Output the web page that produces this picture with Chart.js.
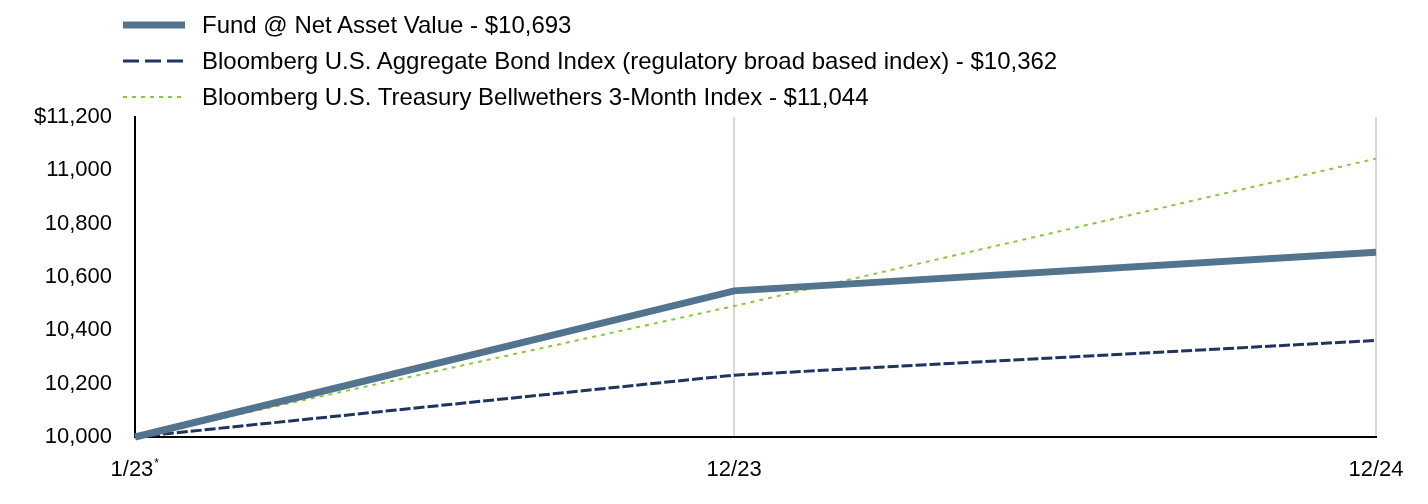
<!DOCTYPE html>
<html>
<head>
<meta charset="utf-8">
<script src="https://cdn.jsdelivr.net/npm/chart.js@4/dist/chart.umd.min.js"></script>
<style>
  html, body { margin: 0; padding: 0; background: #fff; }
  #wrap { position: relative; width: 1428px; height: 504px; }
  #legend { position: absolute; left: 123px; top: 7px; font-family: "Liberation Sans", Arial, sans-serif; font-size: 24px; color: #000; }
  .row { display: flex; align-items: center; height: 36px; }
  .row svg { width: 62px; height: 10px; margin-right: 17px; flex: none; }
  .row span { white-space: nowrap; }
</style>
</head>
<body>
<div id="wrap">
  <canvas id="growthChart" width="1428" height="504"></canvas>
  <div id="legend"></div>
</div>
<script>
// ข้อมูลที่อ่านจากภาพ
const xTickLabels = ['1/23', '12/23', '12/24'];
const monthsElapsed = [0, 11.2, 23.2];
const fundValues = [10000, 10548, 10693];
const bondValues = [10000, 10232, 10362];
const treasuryValues = [10000, 10491, 11044];
const seriesNames = [
  'Fund @ Net Asset Value - $10,693',
  'Bloomberg U.S. Aggregate Bond Index (regulatory broad based index) - $10,362',
  'Bloomberg U.S. Treasury Bellwethers 3-Month Index - $11,044'
];
const yMin = 10000, yMax = 11200, yStep = 200;

const FONT = '"Liberation Sans", Arial, sans-serif';
const styles = [
  { color: '#53748f', width: 7, dash: [], legendDash: '' },
  { color: '#1f3461', width: 3, dash: [11, 3], legendDash: '16 6' },
  { color: '#8dc63f', width: 2, dash: [4, 5], legendDash: '4 5' }
];
const allValues = [fundValues, bondValues, treasuryValues];

const toPoints = vals => vals.map((v, i) => ({ x: monthsElapsed[i], y: v }));

// --- legend แบบ HTML ---
const legendBox = document.getElementById('legend');
seriesNames.forEach((name, i) => {
  const s = styles[i];
  legendBox.innerHTML += `<div class="row">
      <svg viewBox="0 0 62 10"><line x1="0" y1="5" x2="62" y2="5" stroke="${s.color}" stroke-width="${s.width}" stroke-dasharray="${s.legendDash}"/></svg>
      <span>${name}</span></div>`;
});

// เครื่องหมาย * ยกสูงหลัง 1/23
const asteriskPlugin = {
  id: 'asterisk',
  afterDraw(c) {
    const xs = c.scales.x;
    const ctx = c.ctx;
    ctx.save();
    ctx.font = '22px ' + FONT;
    const full = ctx.measureText(xTickLabels[0] + ' ').width;
    const space = ctx.measureText(' ').width;
    const x = xs.getPixelForValue(monthsElapsed[0]) + full / 2 - space + 1;
    ctx.font = '12px ' + FONT;
    ctx.fillStyle = '#000';
    ctx.textBaseline = 'top';
    ctx.fillText('*', x, 458);
    ctx.restore();
  }
};

const ctx = document.getElementById('growthChart').getContext('2d');
const chart = new Chart(ctx, {
  type: 'line',
  data: {
    datasets: allValues.map((vals, i) => ({
      label: seriesNames[i],
      data: toPoints(vals),
      borderColor: styles[i].color,
      borderWidth: styles[i].width,
      borderDash: styles[i].dash,
      pointRadius: 0,
      tension: 0,
      fill: false,
      clip: false
    }))
  },
  options: {
    responsive: false,
    animation: false,
    layout: { padding: { top: 117, right: 52, left: 0, bottom: 0 } },
    plugins: { legend: { display: false }, tooltip: { enabled: false } },
    scales: {
      x: {
        type: 'linear',
        min: monthsElapsed[0],
        max: monthsElapsed[monthsElapsed.length - 1],
        afterBuildTicks: s => { s.ticks = monthsElapsed.map(v => ({ value: v })); },
        afterFit: s => { s.height = 67; },
        ticks: {
          color: '#000',
          padding: 20,
          maxRotation: 0,
          autoSkip: false,
          font: { family: FONT, size: 22 },
          callback: (v, idx) => idx === 0 ? xTickLabels[idx] + ' ' : xTickLabels[idx]
        },
        grid: {
          drawTicks: false,
          color: c => (c.tick && c.tick.value === monthsElapsed[0]) ? 'rgba(0,0,0,0)' : '#d9d9d9',
          lineWidth: 2
        },
        border: { color: '#000', width: 2 }
      },
      y: {
        min: yMin,
        max: yMax,
        afterFit: s => { s.width = 135; },
        ticks: {
          stepSize: yStep,
          color: '#000',
          padding: 23,
          font: { family: FONT, size: 22 },
          callback: v => (v === yMax ? '$' : '') + v.toLocaleString('en-US')
        },
        grid: { display: false, drawTicks: false },
        border: { color: '#000', width: 2 }
      }
    }
  },
  plugins: [asteriskPlugin]
});
</script>
</body>
</html>
